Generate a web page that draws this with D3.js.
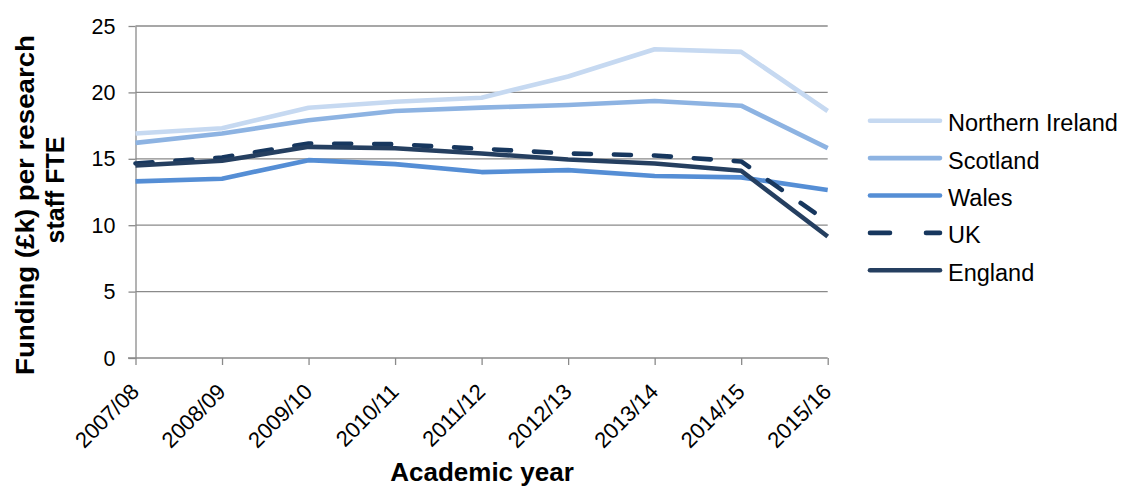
<!DOCTYPE html>
<html>
<head>
<meta charset="utf-8">
<script src="https://cdn.jsdelivr.net/npm/d3@7/dist/d3.min.js"></script>
<style>
  html, body { margin: 0; padding: 0; background: #fff; }
  svg { display: block; }
  text { font-family: "Liberation Sans", Arial, sans-serif; fill: #000; }
</style>
</head>
<body>
<svg id="chart" width="1122" height="488"></svg>
<script>
// Academic years on the x axis
const years = ["2007/08", "2008/09", "2009/10", "2010/11", "2011/12",
               "2012/13", "2013/14", "2014/15", "2015/16"];

// Funding (£k) per research staff FTE, by nation
const northernIreland = [16.9, 17.3, 18.85, 19.3, 19.6, 21.2, 23.25, 23.05, 18.6];
const scotland        = [16.2, 16.9, 17.9, 18.6, 18.85, 19.05, 19.35, 19.0, 15.8];
const wales           = [13.3, 13.5, 14.9, 14.6, 14.0, 14.15, 13.7, 13.6, 12.65];
const uk              = [14.65, 15.1, 16.15, 16.1, 15.75, 15.4, 15.25, 14.8, 10.25];
const england         = [14.5, 14.85, 15.9, 15.8, 15.4, 14.95, 14.65, 14.1, 9.15];

const yTicks = [0, 5, 10, 15, 20, 25];

const seriesNames = ["Northern Ireland", "Scotland", "Wales", "UK", "England"];
const seriesValues = [northernIreland, scotland, wales, uk, england];
const seriesColors = ["#c6d9f1", "#8db3e2", "#558ed5", "#17375e", "#253f60"];
const seriesDash = [null, null, null, "17 23", null];

const svg = d3.select("#chart");

const x = d3.scalePoint().domain(years).range([135.5, 827.7]);
const y = d3.scaleLinear().domain([0, 25]).range([358, 26]);

const gridColor = "#8a8a8a";

// Horizontal gridlines
svg.append("g")
  .selectAll("line")
  .data(yTicks.filter(d => d > 0))
  .join("line")
  .attr("x1", 135.5).attr("x2", 827.7)
  .attr("y1", d => y(d)).attr("y2", d => y(d))
  .attr("stroke", gridColor).attr("stroke-width", 1.3);

// Y axis
const yAxis = svg.append("g")
  .attr("transform", "translate(135.5,0)")
  .call(d3.axisLeft(y).tickValues(yTicks).tickSize(7).tickPadding(13).tickSizeOuter(0));
yAxis.select(".domain").attr("stroke", gridColor).attr("stroke-width", 1.3);
yAxis.selectAll(".tick line").attr("stroke", gridColor).attr("stroke-width", 1.3);
yAxis.selectAll(".tick text")
  .attr("font-size", 21.5)
  .attr("font-family", "Liberation Sans, Arial, sans-serif")
  .attr("fill", "#000")
  .attr("dy", "0.33em");

// X axis
const xAxis = svg.append("g")
  .attr("transform", "translate(0,358)")
  .call(d3.axisBottom(x).tickSize(7).tickSizeOuter(0));
xAxis.select(".domain").attr("stroke", gridColor).attr("stroke-width", 1.3)
  .attr("d", "M128,0H827.7");
xAxis.selectAll(".tick line").attr("stroke", gridColor).attr("stroke-width", 1.3);
xAxis.selectAll(".tick text")
  .attr("font-size", 22)
  .attr("font-family", "Liberation Sans, Arial, sans-serif")
  .attr("fill", "#000")
  .attr("text-anchor", "end")
  .attr("x", 0).attr("y", 0).attr("dy", 0)
  .attr("transform", "translate(4.5,35) rotate(-45)");

// Series lines
const line = d3.line()
  .x((d, i) => x(years[i]))
  .y(d => y(d));

svg.append("g")
  .selectAll("path")
  .data(seriesValues.map((v, i) => ({ values: v, color: seriesColors[i], dash: seriesDash[i] })))
  .join("path")
  .attr("d", d => line(d.values))
  .attr("fill", "none")
  .attr("stroke", d => d.color)
  .attr("stroke-width", 4.6)
  .attr("stroke-linejoin", "round")
  .attr("stroke-linecap", d => d.dash ? "round" : "butt")
  .attr("stroke-dasharray", d => d.dash);

// Legend
const legend = svg.append("g");
seriesNames.forEach((name, i) => {
  const ly = 120.7 + i * 37.4;
  legend.append("line")
    .attr("x1", 870).attr("x2", 940)
    .attr("y1", ly).attr("y2", ly)
    .attr("stroke", seriesColors[i])
    .attr("stroke-width", 4.6)
    .attr("stroke-linecap", "round")
    .attr("stroke-dasharray", seriesDash[i] ? "20 36" : null);
  legend.append("text")
    .attr("x", 948).attr("y", ly + 10.5)
    .attr("font-size", 23.5)
    .text(name);
});

// Axis titles
svg.append("text")
  .attr("transform", "translate(34,205) rotate(-90)")
  .attr("text-anchor", "middle")
  .attr("font-size", 25).attr("font-weight", "bold")
  .attr("textLength", 340).attr("lengthAdjust", "spacingAndGlyphs")
  .text("Funding (£k) per research");
svg.append("text")
  .attr("transform", "translate(64,190) rotate(-90)")
  .attr("text-anchor", "middle")
  .attr("font-size", 25).attr("font-weight", "bold")
  .text("staff FTE");

svg.append("text")
  .attr("x", 482).attr("y", 481)
  .attr("text-anchor", "middle")
  .attr("font-size", 26).attr("font-weight", "bold")
  .text("Academic year");
</script>
</body>
</html>
